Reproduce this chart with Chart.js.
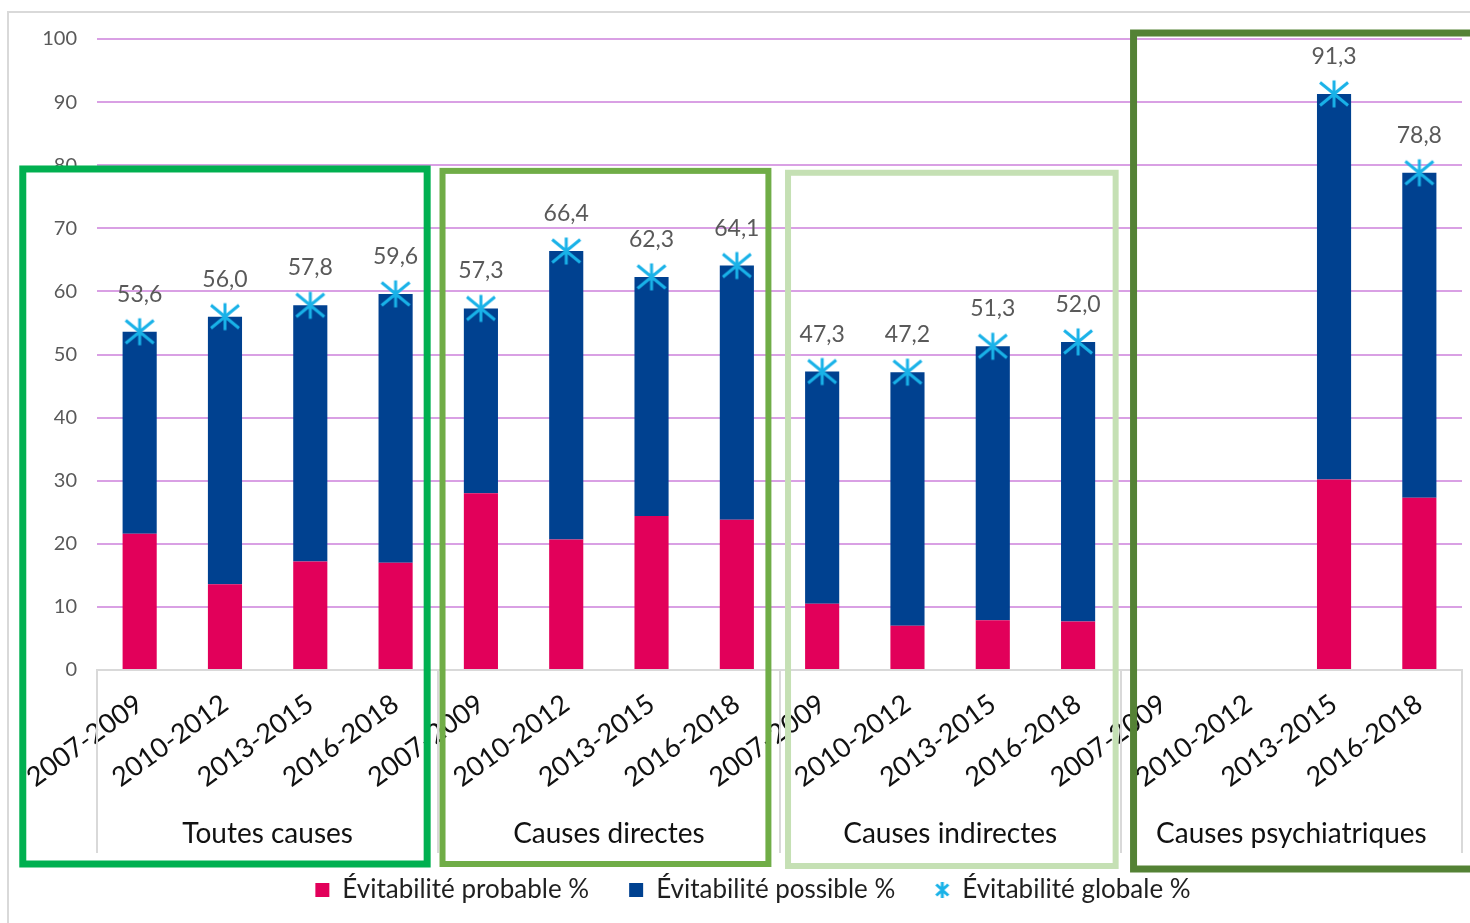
<!DOCTYPE html>
<html><head><meta charset="utf-8">
<script src="https://cdn.jsdelivr.net/npm/chart.js@4.4.1/dist/chart.umd.min.js"></script>
<style>html,body{margin:0;padding:0;background:#fff;overflow:hidden}</style>
</head><body>
<canvas id="c" width="1470" height="923"></canvas>
<script>
const periods = ['2007-2009', '2010-2012', '2013-2015', '2016-2018'];
const groups = ['Toutes causes', 'Causes directes', 'Causes indirectes', 'Causes psychiatriques'];
const probable = [21.6, 13.6, 17.2, 17.0, 28.0, 20.7, 24.4, 23.8, 10.5, 7.0, 7.9, 7.7, null, null, 30.2, 27.3];
const possible = [32.0, 42.4, 40.6, 42.6, 29.3, 45.7, 37.9, 40.3, 36.8, 40.2, 43.4, 44.3, null, null, 61.1, 51.5];
const globale = [53.6, 56.0, 57.8, 59.6, 57.3, 66.4, 62.3, 64.1, 47.3, 47.2, 51.3, 52.0, null, null, 91.3, 78.8];
const seriesNames = ['Évitabilité probable %', 'Évitabilité possible %', 'Évitabilité globale %'];

const labels = groups.flatMap(() => periods);
const FONT = 'Lato';
const STAR = '#19b2e8';

function makeStar(size, lw, color, dx, dy, vy) {
  const cv = document.createElement('canvas');
  cv.width = size; cv.height = size;
  const g = cv.getContext('2d');
  const c = size / 2;
  g.strokeStyle = color; g.lineWidth = lw; g.lineCap = 'butt';
  g.beginPath();
  g.moveTo(c, c - vy); g.lineTo(c, c + vy);
  g.moveTo(c - dx, c - dy); g.lineTo(c + dx, c + dy);
  g.moveTo(c - dx, c + dy); g.lineTo(c + dx, c - dy);
  g.stroke();
  return cv;
}
const bigStar = makeStar(32, 3, STAR, 14, 11.5, 13.5);
const smallStar = makeStar(18, 3, STAR, 6, 5.5, 8);

const boxes = [
  {group: 0, left: -0.87, right: -0.13, top: 79.4, bottom: 194, color: '#00b050', width: 7},
  {group: 1, left: 0.05, right: -0.13, top: 79.1, bottom: 194, color: '#70ad47', width: 6},
  {group: 2, left: 0.10, right: -0.06, top: 78.8, bottom: 196, color: '#c5e0b4', width: 6},
  {group: 3, left: 0.15, right: 0.6, top: 100.95, bottom: 199, color: '#548235', width: 7}
];

const decor = {
  id: 'decor',
  beforeDraw(chart) {
    const ctx = chart.ctx;
    ctx.save();
    ctx.fillStyle = '#fff';
    ctx.fillRect(0, 0, chart.width, chart.height);
    ctx.strokeStyle = '#d9d9d9';
    ctx.lineWidth = 2;
    ctx.beginPath();
    ctx.moveTo(8, chart.height + 5);
    ctx.lineTo(8, 12);
    ctx.lineTo(chart.width + 5, 12);
    ctx.stroke();
    ctx.restore();
  },
  afterDatasetsDraw(chart) {
    const ctx = chart.ctx;
    const meta = chart.getDatasetMeta(2);
    ctx.save();
    ctx.font = '23px ' + FONT;
    ctx.fillStyle = '#595959';
    ctx.textAlign = 'center';
    ctx.textBaseline = 'alphabetic';
    meta.data.forEach((pt, i) => {
      const v = globale[i];
      if (v === null) return;
      ctx.fillText(v.toFixed(1).replace('.', ','), pt.x, pt.y - 30);
    });
    ctx.restore();
  },
  afterDraw(chart) {
    const ctx = chart.ctx;
    const xs = chart.scales.x, ys = chart.scales.y;
    const base = chart.chartArea.bottom;
    const n = periods.length;
    ctx.save();
    ctx.strokeStyle = '#d9d9d9';
    ctx.lineWidth = 2;
    for (let g = 0; g <= groups.length; g++) {
      const x = Math.round(xs.getPixelForValue(g * n - 0.5));
      ctx.beginPath();
      ctx.moveTo(x, base);
      ctx.lineTo(x, base + 183);
      ctx.stroke();
    }
    ctx.font = '28px ' + FONT;
    ctx.fillStyle = '#111';
    ctx.textAlign = 'center';
    ctx.textBaseline = 'middle';
    groups.forEach((name, g) => {
      const x = (xs.getPixelForValue(g * n) + xs.getPixelForValue(g * n + n - 1)) / 2;
      ctx.fillText(name, x, base + 164);
    });
    boxes.forEach(b => {
      const l = xs.getPixelForValue(b.group * n - 0.5 + b.left);
      const r = xs.getPixelForValue(b.group * n + n - 0.5 + b.right);
      const t = ys.getPixelForValue(b.top);
      const bt = base + b.bottom;
      ctx.strokeStyle = b.color;
      ctx.lineWidth = b.width;
      ctx.strokeRect(l, t, r - l, bt - t);
    });
    ctx.restore();
  }
};

new Chart(document.getElementById('c'), {
  data: {
    labels: labels,
    datasets: [
      {type: 'bar', label: seriesNames[0], data: probable, backgroundColor: '#e2005a', borderWidth: 0,
       barPercentage: 0.4, categoryPercentage: 1.0, order: 1, pointStyle: 'rect'},
      {type: 'bar', label: seriesNames[1], data: possible, backgroundColor: '#004190', borderWidth: 0,
       barPercentage: 0.4, categoryPercentage: 1.0, order: 1, pointStyle: 'rect'},
      {type: 'line', label: seriesNames[2], data: globale, showLine: false, stack: 'tot',
       pointStyle: bigStar, pointRadius: 14, borderColor: STAR, backgroundColor: STAR, order: 0, clip: false}
    ]
  },
  options: {
    responsive: false,
    animation: false,
    devicePixelRatio: 1,
    layout: {autoPadding: false, padding: {top: 39, left: 44, right: 8, bottom: 10}},
    plugins: {
      tooltip: {enabled: false},
      legend: {
        position: 'bottom',
        labels: {
          usePointStyle: true,
          boxWidth: 14, boxHeight: 14,
          padding: 40,
          color: '#1f1f1f',
          font: {family: FONT, size: 26},
          sort: (a, b) => a.datasetIndex - b.datasetIndex,
          generateLabels(chart) {
            const items = Chart.defaults.plugins.legend.labels.generateLabels(chart);
            items.forEach(it => {
              if (it.datasetIndex === 2) { it.pointStyle = smallStar; }
              else { it.pointStyle = 'rect'; it.lineWidth = 0; it.strokeStyle = 'rgba(0,0,0,0)'; }
            });
            return items;
          }
        }
      }
    },
    scales: {
      x: {
        stacked: true,
        grid: {display: false},
        border: {display: true, color: '#d9d9d9', width: 2},
        ticks: {autoSkip: false, maxRotation: 36, minRotation: 36, padding: 10,
                color: '#111', font: {family: FONT, size: 27}},
        afterFit(s) { s.paddingLeft = 0; s.paddingRight = 0; s.height = 167; }
      },
      y: {
        stacked: true,
        min: 0, max: 100,
        ticks: {stepSize: 10, padding: 20, color: '#595959', font: {family: FONT, size: 20}},
        grid: {color: c => c.tick && c.tick.value === 0 ? 'rgba(0,0,0,0)' : '#d9a0e4', lineWidth: 2, drawTicks: false},
        border: {display: false},
        afterFit(s) { s.width = 53; }
      }
    }
  },
  plugins: [decor]
});
</script>
</body></html>
